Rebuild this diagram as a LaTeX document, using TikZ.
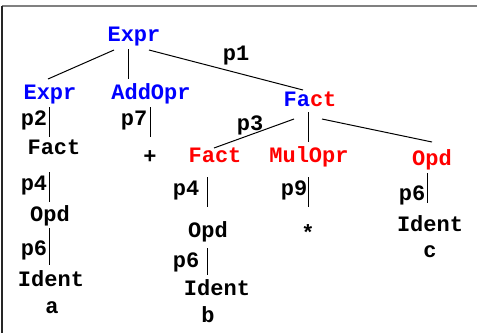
\documentclass[tikz,border=0pt]{standalone}
\usepackage{fontspec}
\newfontfamily\treefont{Liberation Mono}
\begin{document}
\begin{tikzpicture}[x=1bp,y=-1bp,
    every node/.style={font=\treefont\bfseries\fontsize{22bp}{26bp}\selectfont,
      inner sep=0pt,anchor=base},
    nt/.style={text=blue},
    tt/.style={text=red},
    sym/.style={anchor=center}]
      \useasboundingbox (0,0) rectangle (477,333);
      \draw[gray,line width=2bp] (2,6) -- (477,6);
      \draw[black!85,line width=1.2bp] (2,6) -- (2,333);
      \path
        (134,41) node[nt] (e0){Expr}
        (236,60) node (p1){p1}
        (50,99) node[nt] (e1){Expr}
        (151,99) node[nt] (ao){AddOpr}
        (310,106) node (f0){\textcolor{blue}{Fa}\textcolor{red}{ct}}
        (34,125) node (p2){p2}
        (134,125) node (p7){p7}
        (54,154) node (f1){Fact}
        (150,157) node[sym] (plus){+}
        (250,130) node (p3){p3}
        (215,162) node[tt] (f2){Fact}
        (309,162) node[tt] (mo){MulOpr}
        (432,165) node[tt] (o0){Opd}
        (34,190) node (p4a){p4}
        (50,221) node (o1){Opd}
        (34,255) node (p6a){p6}
        (51,286) node (i1){Ident}
        (52,313) node (a){a}
        (186,195) node (p4b){p4}
        (294,195) node (p9){p9}
        (412,200) node (p6c){p6}
        (208,237) node (o2){Opd}
        (308,233) node[sym] (star){*}
        (430,231) node (i3){Ident}
        (430,257) node (c){c}
        (186,267) node (p6b){p6}
        (217,295) node (i2){Ident}
        (208,322) node (b){b};
      \begin{scope}[-,line width=1bp]
        \draw ([shift={(-20,9)}]e0.base) to ([shift={(-2,-20)}]e1.base);
        \draw ([shift={(-6,8)}]e0.base) to ([shift={(-23,-20)}]ao.base);
        \draw ([shift={(15,9)}]e0.base) to ([shift={(-7,-16)}]f0.base);
        \draw ([shift={(-1,8)}]e1.base) to ([shift={(-5,-17)}]f1.base);
        \draw ([shift={(-1,8)}]ao.base) to ([shift={(0,-20)}]plus.center);
        \draw ([shift={(-16,13)}]f0.base) to ([shift={(-1,-14)}]f2.base);
        \draw ([shift={(-2,6)}]f0.base) to ([shift={(-1,-20)}]mo.base);
        \draw ([shift={(12,13)}]f0.base) to ([shift={(0,-23)}]o0.base);
        \draw ([shift={(-5,18)}]f1.base) to ([shift={(-1,-19)}]o1.base);
        \draw ([shift={(-1,7)}]o1.base) to ([shift={(-2,-21)}]i1.base);
        \draw ([shift={(-8,15)}]f2.base) to ([shift={(-1,-30)}]o2.base);
        \draw ([shift={(-1,15)}]mo.base) to ([shift={(0,-26)}]star.center);
        \draw ([shift={(-5,8)}]o0.base) to ([shift={(-3,-28)}]i3.base);
        \draw ([shift={(-1,11)}]o2.base) to ([shift={(-10,-20)}]i2.base);
      \end{scope}
    \end{tikzpicture}
\end{document}
